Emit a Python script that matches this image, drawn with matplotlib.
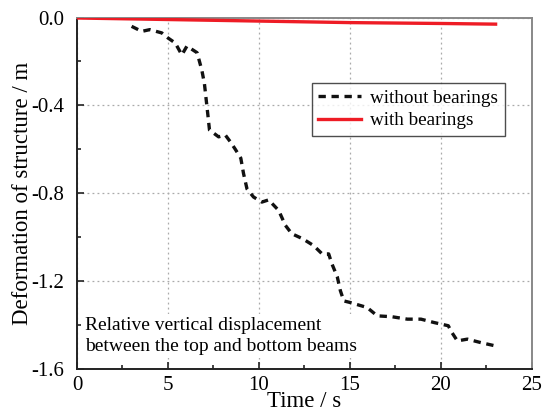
import numpy as np
import matplotlib.pyplot as plt
from matplotlib.ticker import MultipleLocator

plt.rcParams['font.family'] = ['Liberation Serif', 'DejaVu Serif']

# without bearings
t_wo = [3.0, 3.56, 4.0, 4.66, 5.0, 5.4, 5.76, 6.04, 6.6, 6.86, 7.0, 7.1, 7.2,
        7.28, 7.78, 8.15, 8.42, 8.7, 9.0, 9.15, 9.34, 9.7, 10.16, 10.53,
        11.08, 11.45, 11.8, 12.4, 13.0, 13.47, 13.83, 14.0, 14.3, 14.47,
        14.66, 15.0, 15.94, 16.5, 17.3, 18.15, 18.9, 19.6, 20.4, 20.6,
        20.9, 21.45, 22.2, 23.0]
d_wo = [-0.04, -0.063, -0.055, -0.07, -0.093, -0.116, -0.17, -0.13, -0.16,
        -0.24, -0.30, -0.375, -0.45, -0.512, -0.543, -0.535, -0.565, -0.60,
        -0.64, -0.71, -0.78, -0.817, -0.84, -0.83, -0.878, -0.946, -0.984,
        -1.007, -1.038, -1.076, -1.076, -1.12, -1.18, -1.243, -1.29, -1.297,
        -1.32, -1.358, -1.362, -1.373, -1.373, -1.388, -1.403, -1.434,
        -1.472, -1.464, -1.48, -1.495]

# with bearings
t_w = [0, 5, 10, 15, 20, 23]
d_w = [-0.002, -0.009, -0.016, -0.023, -0.027, -0.03]

fig = plt.figure(figsize=(5.48, 4.13), dpi=100)
ax = fig.add_axes([0.1405, 0.1065, 0.8303, 0.851])

ax.plot(t_wo, d_wo, color='#111111', lw=2.4, linestyle=(0, (2.2, 1.7)),
        label='without bearings', zorder=3)
ax.plot(t_w, d_w, color='#ee1c25', lw=2.4, label='with bearings', zorder=3)

ax.set_xlim(0, 25)
ax.set_ylim(-1.6, 0.0)
ax.xaxis.set_major_locator(MultipleLocator(5))
ax.xaxis.set_minor_locator(MultipleLocator(2.5))
ax.yaxis.set_major_locator(MultipleLocator(0.4))
ax.yaxis.set_minor_locator(MultipleLocator(0.2))
ax.yaxis.set_major_formatter(plt.FuncFormatter(lambda v, p: '%.1f' % v))
ax.tick_params(which='both', direction='in', top=False, right=False,
               labelsize=15, width=1.2, color='#222222')
ax.tick_params(which='major', length=5)
ax.tick_params(axis='y', which='major', pad=9)
ax.tick_params(axis='x', which='major', pad=5)
ax.tick_params(which='minor', length=3)

ax.grid(True, which='major', color='#aaaaaa', linestyle=(0, (1.5, 2.5)), lw=0.9)
for s in ['left', 'bottom']:
    ax.spines[s].set_linewidth(1.4)
    ax.spines[s].set_color('#222222')
for s in ['top', 'right']:
    ax.spines[s].set_linewidth(1.4)
    ax.spines[s].set_color('#888888')

ax.set_xlabel('Time / s', fontsize=16.5, labelpad=-3)
ax.set_ylabel('Deformation of structure / m', fontsize=16.5, labelpad=-1)

leg = ax.legend(loc='upper left', bbox_to_anchor=(0.516, 0.8137), fontsize=13.8,
                frameon=True, fancybox=False, handlelength=2.2,
                handletextpad=0.5, borderpad=0.35, labelspacing=0.25,
                borderaxespad=0)
leg.get_frame().set_edgecolor('#222222')
leg.get_frame().set_linewidth(1.0)

ax.text(0.45, -1.449, 'Relative vertical displacement\nbetween the top and bottom beams',
        fontsize=14, va='center', ha='left', linespacing=1.32,
        bbox=dict(facecolor='white', edgecolor='none', pad=2), zorder=2)

fig.savefig('out.png', dpi=100)
